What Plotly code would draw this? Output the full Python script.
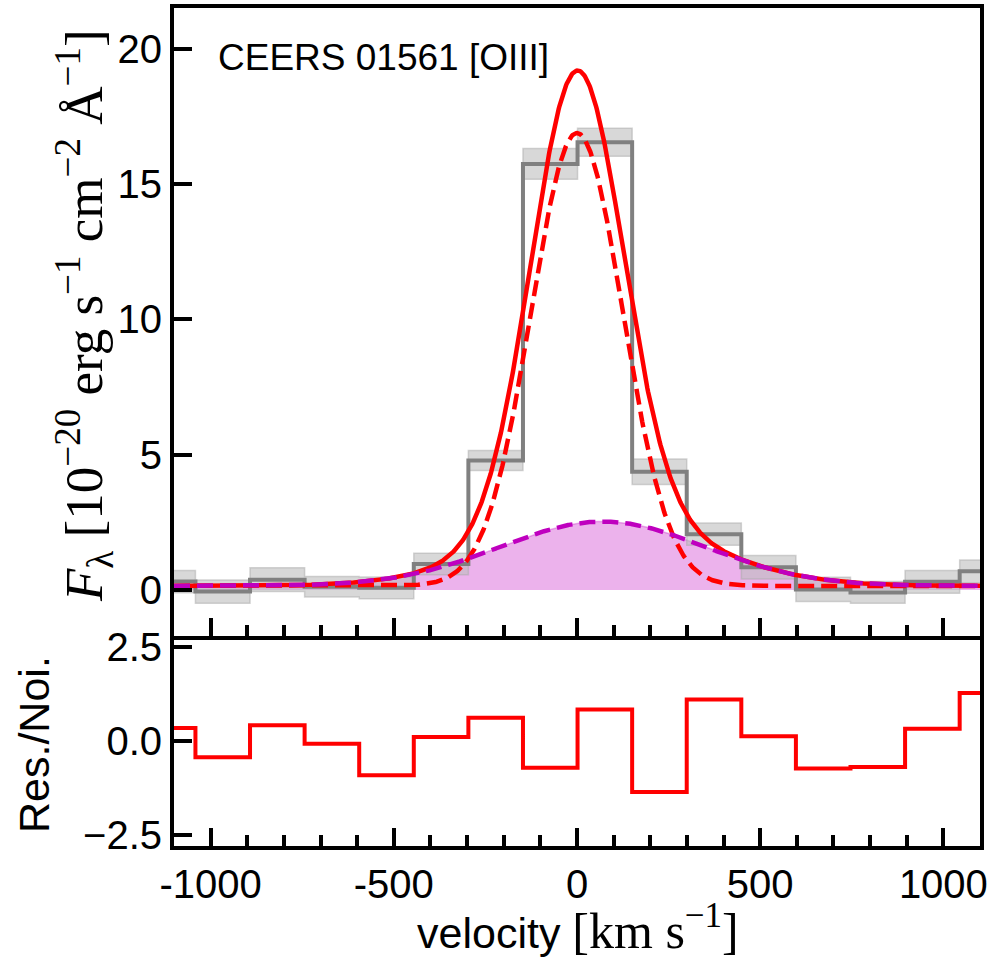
import numpy as np
import plotly.graph_objects as go

# Binned [OIII] spectrum of CEERS 01561 in velocity space
vel_bins = [-1116, -967, -818, -669, -520, -371, -222, -73,
            76, 225, 374, 523, 672, 821, 970, 1119]
flux = [0.31, -0.06, 0.38, 0.12, 0.08, 0.96, 4.78, 15.74,
        16.54, 4.37, 2.06, 0.84, 0.02, -0.09, 0.30, 0.69]
flux_err = [0.41, 0.43, 0.44, 0.38, 0.40, 0.40, 0.37, 0.57,
            0.52, 0.47, 0.41, 0.43, 0.45, 0.40, 0.42, 0.42]
# residual / noise per bin
resid = [0.35, -0.43, 0.42, -0.07, -0.91, 0.11, 0.62, -0.71,
         0.84, -1.36, 1.11, 0.13, -0.73, -0.69, 0.33, 1.28]

# best-fit model: continuum + narrow Gaussian + broad Gaussian
continuum = 0.15
comp_amp = [16.73, 2.38]      # narrow, broad
comp_center = [0.0, 70.0]     # km/s
comp_sigma = [125.0, 280.0]   # km/s

x_ticks = [-1000, -500, 0, 500, 1000]
x_tick_text = ["-1000", "-500", "0", "500", "1000"]
y_ticks_top = [0, 5, 10, 15, 20]
y_ticks_bot = [-2.5, 0, 2.5]
y_tick_text_bot = ["\u22122.5", "0.0", "2.5"]

v = np.linspace(-1100, 1100, 1101)


def gauss(a, c, s):
    return a * np.exp(-0.5 * ((v - c) / s) ** 2)


narrow = continuum + gauss(comp_amp[0], comp_center[0], comp_sigma[0])
broad = continuum + gauss(comp_amp[1], comp_center[1], comp_sigma[1])
total = continuum + gauss(comp_amp[0], comp_center[0], comp_sigma[0]) \
    + gauss(comp_amp[1], comp_center[1], comp_sigma[1])

flux_a = np.array(flux)
err_a = np.array(flux_err)

SANS = "Liberation Sans"
SERIF = "Liberation Serif"
MAG = "rgb(191,0,191)"

fig = go.Figure()

# broad component shaded area
fig.add_trace(go.Scatter(x=v, y=broad, mode="lines", fill="tozeroy",
                         fillcolor="rgba(191,0,191,0.3)",
                         line=dict(color="rgba(191,0,191,0.3)", width=1.5),
                         xaxis="x", yaxis="y", hoverinfo="skip"))
# error band
fig.add_trace(go.Scatter(x=vel_bins, y=flux_a - err_a, mode="lines",
                         line=dict(color="rgba(170,170,170,0.5)", width=1.5, shape="hvh"),
                         xaxis="x", yaxis="y", hoverinfo="skip"))
fig.add_trace(go.Scatter(x=vel_bins, y=flux_a + err_a, mode="lines", fill="tonexty",
                         fillcolor="rgba(190,190,190,0.6)",
                         line=dict(color="rgba(170,170,170,0.5)", width=1.5, shape="hvh"),
                         xaxis="x", yaxis="y", hoverinfo="skip"))
# observed spectrum
fig.add_trace(go.Scatter(x=vel_bins, y=flux, mode="lines",
                         line=dict(color="rgb(128,128,128)", width=4, shape="hvh"),
                         xaxis="x", yaxis="y"))
# total model
fig.add_trace(go.Scatter(x=v, y=total, mode="lines",
                         line=dict(color="red", width=4.5),
                         xaxis="x", yaxis="y"))
# narrow component
fig.add_trace(go.Scatter(x=v, y=narrow, mode="lines",
                         line=dict(color="red", width=4.5, dash="16px,7px"),
                         xaxis="x", yaxis="y"))
# broad component
fig.add_trace(go.Scatter(x=v, y=broad, mode="lines",
                         line=dict(color=MAG, width=4.5, dash="16px,7px"),
                         xaxis="x", yaxis="y"))
# residuals
fig.add_trace(go.Scatter(x=vel_bins, y=resid, mode="lines",
                         line=dict(color="red", width=4, shape="hvh"),
                         xaxis="x2", yaxis="y2"))

split = 0.2506
tickfont = dict(family=SANS, size=40, color="black")
common_x = dict(range=[-1100, 1100], showline=True, linewidth=4, linecolor="black",
                ticks="inside", ticklen=18, tickwidth=4, tickcolor="black",
                tickvals=x_ticks, ticktext=x_tick_text, showgrid=False, zeroline=False,
                automargin=False,
                minor=dict(ticks="inside", ticklen=11, tickwidth=3.5, dtick=100,
                           tick0=0, tickcolor="black", showgrid=False),
                tickfont=tickfont)
common_y = dict(showline=True, linewidth=4, linecolor="black", mirror=True,
                ticks="inside", ticklen=18, tickwidth=4, tickcolor="black",
                showgrid=False, zeroline=False, automargin=False, tickfont=tickfont)

fig.update_layout(
    width=996, height=964,
    margin=dict(l=174, r=16, t=8, b=118),
    paper_bgcolor="white", plot_bgcolor="white",
    showlegend=False,
    xaxis=dict(common_x, anchor="y", mirror=True, showticklabels=False),
    yaxis=dict(common_y, domain=[split, 1], range=[-1.7, 21.5], tickvals=y_ticks_top),
    xaxis2=dict(common_x, anchor="y2", mirror=False, showticklabels=True),
    yaxis2=dict(common_y, domain=[0, split], range=[-2.8, 2.8],
                tickvals=y_ticks_bot, ticktext=y_tick_text_bot),
)

W, H = 806.0, 838.0


def px(xp, yp):
    return (xp - 174) / W, (846 - yp) / H


annots = []
x0, y0 = px(216, 57)
annots.append(dict(x=x0, y=y0, xref="paper", yref="paper", xanchor="left", yanchor="middle",
                   text="CEERS 01561 [OIII]", showarrow=False,
                   font=dict(family=SANS, size=37, color="black")))
x0, y0 = px(84, 316)
annots.append(dict(x=x0, y=y0, xref="paper", yref="paper", xanchor="center", yanchor="middle",
                   textangle=-90, showarrow=False,
                   text="<i>F</i><sub>\u03bb</sub> [10<sup>\u221220</sup> erg s<sup>\u22121</sup> "
                        "cm<sup>\u22122</sup> \u00c5<sup>\u22121</sup>]",
                   font=dict(family=SERIF, size=53, color="black")))
x0, y0 = px(34, 745)
annots.append(dict(x=x0, y=y0, xref="paper", yref="paper", xanchor="center", yanchor="middle",
                   textangle=-90, showarrow=False, text="Res./Noi.",
                   font=dict(family=SANS, size=43, color="black")))
x0, y0 = px(578, 928)
annots.append(dict(x=x0, y=y0, xref="paper", yref="paper", xanchor="center", yanchor="middle",
                   showarrow=False,
                   text="velocity <span style='font-family:" + SERIF + "; font-size:50px'>"
                        "[km s<sup>\u22121</sup>]</span>",
                   font=dict(family=SANS, size=43, color="black")))
fig.update_layout(annotations=annots)

fig.write_html("out.html")
